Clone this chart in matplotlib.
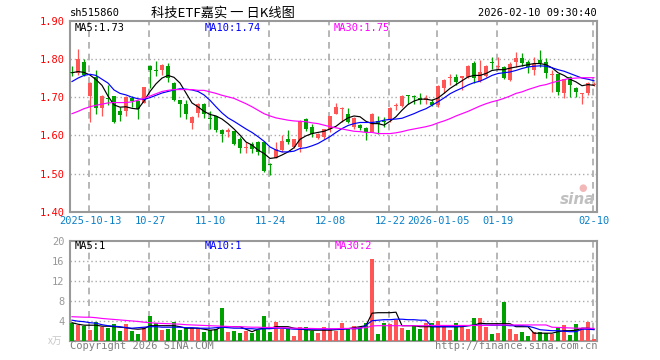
import matplotlib
matplotlib.use("Agg")
import matplotlib.pyplot as plt
import numpy as np

# daily candles, 2025-10 .. 2026-02-10
opens = [1.767, 1.762, 1.792, 1.703, 1.753, 1.671, 1.699, 1.703, 1.664, 1.663,
         1.699, 1.690, 1.686, 1.782, 1.771, 1.770, 1.782, 1.737, 1.692, 1.683,
         1.633, 1.660, 1.683, 1.644, 1.651, 1.614, 1.608, 1.611, 1.590, 1.566,
         1.577, 1.583, 1.583, 1.526, 1.542, 1.562, 1.590, 1.571, 1.571, 1.643,
         1.623, 1.594, 1.597, 1.617, 1.657, 1.668, 1.657, 1.623, 1.627, 1.620,
         1.610, 1.637, 1.637, 1.640, 1.678, 1.677, 1.704, 1.702, 1.699, 1.694,
         1.688, 1.679, 1.724, 1.749, 1.753, 1.749, 1.753, 1.790, 1.742, 1.756,
         1.791, 1.780, 1.779, 1.744, 1.792, 1.803, 1.792, 1.770, 1.797, 1.792,
         1.759, 1.760, 1.710, 1.753, 1.725, 1.709, 1.710, 1.732]
highs = [1.782, 1.827, 1.800, 1.740, 1.770, 1.705, 1.731, 1.704, 1.675, 1.702,
         1.703, 1.692, 1.728, 1.783, 1.795, 1.786, 1.790, 1.739, 1.693, 1.692,
         1.650, 1.684, 1.685, 1.663, 1.652, 1.616, 1.620, 1.613, 1.595, 1.583,
         1.583, 1.585, 1.585, 1.527, 1.583, 1.601, 1.614, 1.591, 1.640, 1.645,
         1.629, 1.606, 1.618, 1.652, 1.684, 1.674, 1.672, 1.647, 1.631, 1.623,
         1.658, 1.651, 1.649, 1.674, 1.685, 1.707, 1.706, 1.705, 1.710, 1.705,
         1.695, 1.731, 1.747, 1.760, 1.760, 1.756, 1.783, 1.794, 1.798, 1.784,
         1.805, 1.805, 1.782, 1.792, 1.818, 1.816, 1.797, 1.805, 1.823, 1.803,
         1.770, 1.761, 1.748, 1.755, 1.726, 1.712, 1.740, 1.740]
lows = [1.755, 1.758, 1.755, 1.636, 1.657, 1.651, 1.680, 1.633, 1.638, 1.652,
        1.675, 1.644, 1.684, 1.723, 1.756, 1.758, 1.740, 1.690, 1.649, 1.643,
        1.618, 1.649, 1.646, 1.618, 1.608, 1.582, 1.596, 1.575, 1.553, 1.553,
        1.553, 1.550, 1.504, 1.497, 1.540, 1.557, 1.579, 1.568, 1.556, 1.611,
        1.597, 1.590, 1.592, 1.610, 1.655, 1.636, 1.633, 1.617, 1.614, 1.588,
        1.608, 1.603, 1.623, 1.636, 1.666, 1.675, 1.681, 1.683, 1.683, 1.683,
        1.677, 1.675, 1.712, 1.733, 1.731, 1.718, 1.750, 1.736, 1.740, 1.753,
        1.775, 1.775, 1.748, 1.742, 1.779, 1.782, 1.762, 1.757, 1.779, 1.750,
        1.714, 1.707, 1.698, 1.700, 1.700, 1.683, 1.707, 1.730]
closes = [1.762, 1.799, 1.757, 1.736, 1.673, 1.703, 1.696, 1.636, 1.653, 1.701,
          1.690, 1.670, 1.727, 1.772, 1.769, 1.785, 1.749, 1.694, 1.683, 1.657,
          1.649, 1.683, 1.657, 1.642, 1.614, 1.605, 1.614, 1.577, 1.566, 1.569,
          1.564, 1.556, 1.507, 1.523, 1.564, 1.586, 1.582, 1.590, 1.638, 1.618,
          1.603, 1.605, 1.617, 1.651, 1.675, 1.673, 1.636, 1.646, 1.620, 1.608,
          1.657, 1.629, 1.635, 1.673, 1.680, 1.703, 1.702, 1.700, 1.693, 1.696,
          1.679, 1.730, 1.746, 1.751, 1.740, 1.755, 1.782, 1.749, 1.766, 1.781,
          1.789, 1.782, 1.750, 1.786, 1.803, 1.790, 1.779, 1.788, 1.790, 1.762,
          1.761, 1.714, 1.747, 1.731, 1.714, 1.711, 1.736, 1.734]

ma5 = [1.764, 1.767, 1.765, 1.758, 1.746, 1.731, 1.703, 1.680, 1.674, 1.675,
       1.671, 1.669, 1.690, 1.715, 1.735, 1.750, 1.757, 1.752, 1.737, 1.711,
       1.685, 1.675, 1.663, 1.655, 1.651, 1.643, 1.631, 1.617, 1.601, 1.583,
       1.575, 1.562, 1.553, 1.540, 1.542, 1.549, 1.557, 1.568, 1.590, 1.599,
       1.605, 1.608, 1.611, 1.617, 1.624, 1.636, 1.646, 1.651, 1.649, 1.637,
       1.631, 1.631, 1.627, 1.637, 1.649, 1.666, 1.681, 1.690, 1.695, 1.695,
       1.692, 1.698, 1.710, 1.723, 1.733, 1.743, 1.753, 1.757, 1.757, 1.762,
       1.770, 1.772, 1.772, 1.776, 1.779, 1.782, 1.785, 1.788, 1.788, 1.785,
       1.777, 1.764, 1.757, 1.747, 1.740, 1.730, 1.733, 1.731]
ma10 = [1.741, 1.750, 1.757, 1.760, 1.757, 1.747, 1.737, 1.719, 1.710, 1.706,
        1.700, 1.696, 1.694, 1.699, 1.705, 1.711, 1.715, 1.719, 1.722, 1.721,
        1.719, 1.715, 1.706, 1.692, 1.675, 1.659, 1.646, 1.637, 1.627, 1.617,
        1.608, 1.597, 1.585, 1.570, 1.562, 1.557, 1.557, 1.559, 1.566, 1.568,
        1.573, 1.579, 1.588, 1.597, 1.608, 1.618, 1.626, 1.631, 1.634, 1.634,
        1.634, 1.636, 1.640, 1.642, 1.643, 1.645, 1.651, 1.657, 1.664, 1.670,
        1.679, 1.688, 1.698, 1.709, 1.717, 1.724, 1.732, 1.738, 1.742, 1.749,
        1.757, 1.762, 1.764, 1.766, 1.770, 1.775, 1.779, 1.781, 1.782, 1.781,
        1.777, 1.772, 1.768, 1.762, 1.756, 1.750, 1.747, 1.743]
ma30 = [1.657, 1.663, 1.670, 1.675, 1.679, 1.682, 1.685, 1.686, 1.686, 1.686,
        1.688, 1.692, 1.697, 1.703, 1.709, 1.715, 1.718, 1.720, 1.720, 1.720,
        1.720, 1.718, 1.718, 1.714, 1.710, 1.705, 1.701, 1.697, 1.690, 1.683,
        1.675, 1.666, 1.657, 1.651, 1.646, 1.643, 1.640, 1.638, 1.637, 1.636,
        1.633, 1.631, 1.627, 1.623, 1.620, 1.617, 1.614, 1.611, 1.610, 1.608,
        1.608, 1.605, 1.605, 1.605, 1.607, 1.610, 1.614, 1.617, 1.620, 1.623,
        1.627, 1.633, 1.638, 1.644, 1.651, 1.657, 1.663, 1.670, 1.677, 1.683,
        1.688, 1.692, 1.697, 1.703, 1.710, 1.714, 1.720, 1.725, 1.730, 1.733,
        1.738, 1.742, 1.746, 1.749, 1.750, 1.751, 1.751, 1.751]

# volume (x 10k)
volume = [3.47, 3.13, 3.0, 2.13, 3.67, 2.8, 2.6, 3.33, 2.0, 3.33,
          2.0, 1.33, 2.67, 4.93, 3.47, 2.13, 2.33, 3.73, 2.13, 2.47,
          2.47, 2.47, 1.8, 2.13, 2.33, 6.6, 1.8, 1.93, 1.53, 1.93,
          1.6, 2.13, 4.93, 1.73, 3.73, 2.27, 2.47, 0.93, 2.67, 2.67,
          2.0, 1.47, 2.67, 2.3, 2.0, 3.47, 2.27, 2.93, 2.67, 3.47,
          16.33, 1.33, 3.47, 3.33, 4.13, 2.6, 2.13, 2.93, 2.4, 3.47,
          3.47, 4.0, 3.13, 2.13, 3.47, 2.93, 2.4, 4.53, 4.53, 2.67,
          1.33, 1.53, 7.73, 2.33, 1.33, 1.73, 0.93, 1.73, 1.73, 1.47,
          1.33, 2.67, 3.13, 1.13, 3.33, 2.47, 3.73, 0.33]
vma5 = [3.6, 3.3, 3.1, 3.1, 3.1, 2.9, 2.9, 2.8, 2.7, 2.6,
        2.4, 2.3, 2.4, 3.0, 3.0, 3.0, 3.0, 3.0, 2.8, 2.5,
        2.5, 2.5, 2.3, 2.1, 2.2, 2.8, 2.8, 2.8, 2.8, 2.3,
        1.8, 2.3, 2.5, 2.5, 2.8, 2.8, 2.8, 2.5, 2.3, 2.2,
        2.1, 2.1, 2.1, 2.1, 2.2, 2.3, 2.4, 2.6, 2.8, 3.0,
        5.5, 5.6, 5.6, 5.6, 5.7, 3.0, 3.0, 3.0, 2.8, 2.8,
        2.8, 2.8, 2.8, 2.8, 2.8, 2.8, 3.0, 3.1, 3.5, 3.4,
        3.4, 3.4, 3.4, 3.4, 2.8, 2.8, 2.8, 1.5, 1.5, 1.5,
        1.5, 1.8, 2.0, 2.0, 2.1, 2.5, 2.5, 2.3]
vma10 = [4.1, 3.9, 3.8, 3.6, 3.5, 3.2, 3.0, 2.9, 2.8, 2.6,
         2.5, 2.6, 2.7, 2.8, 2.8, 2.7, 2.7, 2.7, 2.7, 2.6,
         2.6, 2.5, 2.5, 2.5, 2.6, 2.7, 2.6, 2.5, 2.5, 2.4,
         2.4, 2.3, 2.4, 2.4, 2.5, 2.5, 2.4, 2.3, 2.3, 2.3,
         2.3, 2.3, 2.3, 2.3, 2.3, 2.3, 2.4, 2.4, 2.4, 3.1,
         4.0, 4.1, 4.2, 4.2, 4.3, 4.3, 4.2, 4.2, 4.1, 4.1,
         2.8, 2.8, 2.8, 2.8, 2.8, 2.9, 3.0, 3.1, 3.1, 3.1,
         3.1, 3.1, 3.1, 3.0, 3.0, 3.0, 2.9, 2.6, 2.2, 2.1,
         2.0, 2.0, 1.9, 1.8, 1.8, 2.3, 2.3, 2.2]
vma30 = [4.8, 4.75, 4.7, 4.7, 4.6, 4.45, 4.35, 4.25, 4.15, 4.05,
         3.95, 3.85, 3.7, 3.6, 3.5, 3.45, 3.4, 3.35, 3.3, 3.2,
         3.15, 3.1, 3.05, 3.0, 2.95, 2.9, 2.85, 2.8, 2.8, 2.75,
         2.7, 2.7, 2.65, 2.65, 2.6, 2.6, 2.55, 2.5, 2.5, 2.45,
         2.45, 2.4, 2.4, 2.4, 2.4, 2.45, 2.45, 2.5, 2.55, 2.6,
         2.95, 3.0, 3.0, 3.0, 3.0, 3.0, 3.0, 3.0, 3.0, 3.0,
         3.05, 3.05, 3.05, 3.05, 3.05, 3.05, 3.05, 3.05, 3.05, 3.05,
         3.15, 3.15, 3.15, 3.15, 3.15, 3.15, 3.15, 3.15, 3.15, 3.15,
         2.7, 2.65, 2.6, 2.55, 2.5, 2.5, 2.5, 2.45]

date_idx = [3, 13, 23, 33, 43, 53, 61, 71, 87]
date_labels = ["2025-10-13", "10-27", "11-10", "11-24", "12-08",
               "12-22", "2026-01-05", "01-19", "02-10"]
price_ticks = [1.40, 1.50, 1.60, 1.70, 1.80, 1.90]
vol_ticks = [4, 8, 12, 16, 20]

RED = "#ff5555"
GREEN = "#00a000"
GRID = "#aaaaaa"
FRAME = "#999999"
MONO = "DejaVu Sans Mono"
CJK = ["Noto Sans CJK SC", "DejaVu Sans"]

W, H = 660, 360
def fx(px):
    return px / W
def fy(py):
    return 1 - py / H

fig = plt.figure(figsize=(6.6, 3.6), dpi=100)
ax = fig.add_axes([fx(70), fy(212), (597 - 70) / W, (212 - 20.7) / H])
axv = fig.add_axes([fx(70), fy(340.7), (597 - 70) / W, 100 / H])

o = np.array(opens); c = np.array(closes)
hi = np.array(highs); lo = np.array(lows)
x = np.arange(len(c))
cols = np.where(c >= o, RED, GREEN)

# candles
ax.vlines(x, lo, hi, colors=cols, lw=0.9, zorder=3)
ax.bar(x, np.maximum(np.abs(c - o), 0.0028), bottom=np.minimum(o, c),
       width=0.8, color=cols, lw=0, zorder=4)
ax.plot(x, ma5, color="black", lw=0.85, zorder=5)
ax.plot(x, ma10, color="#0000ff", lw=0.85, zorder=5)
ax.plot(x, ma30, color="#ff00ff", lw=0.85, zorder=5)

# volume
axv.bar(x, volume, width=0.8, color=cols, lw=0, zorder=3)
axv.plot(x, vma5, color="black", lw=0.85, zorder=5)
axv.plot(x, vma10, color="#0000ff", lw=0.85, zorder=5)
axv.plot(x, vma30, color="#ff00ff", lw=0.85, zorder=5)

for a in (ax, axv):
    a.set_xlim(-1 / 3, 87.5)
    for s in a.spines.values():
        s.set_color(FRAME)
        s.set_linewidth(1.5)
    for d in date_idx:
        a.axvline(d - 0.25, color=GRID, ls=(0, (4, 3)), lw=1.2, zorder=1)
    a.tick_params(length=0)

ax.set_ylim(1.40, 1.90)
for p in price_ticks[1:-1]:
    ax.axhline(p, color=GRID, ls=(0, (1, 2)), lw=1, zorder=1)
ax.set_yticks(price_ticks)
ax.set_yticklabels([f"{p:.2f}" for p in price_ticks], color="red",
                   family=MONO, fontsize=7.5)
ax.set_xticks(date_idx)
ax.set_xticklabels(date_labels, color="#0a80c8", family=MONO, fontsize=7.5)
ax.tick_params(axis="y", pad=4)
ax.tick_params(axis="x", pad=3)

axv.set_ylim(0, 20)
for v in vol_ticks[:-1]:
    axv.axhline(v, color=GRID, ls=(0, (1, 2)), lw=1, zorder=1)
axv.set_yticks(vol_ticks)
axv.set_yticklabels([str(v) for v in vol_ticks], color=FRAME,
                    family=MONO, fontsize=7.5)
axv.tick_params(axis="y", pad=4)
axv.set_xticks([])

# header
fig.text(fx(70), fy(13), "sh515860", family=MONO, fontsize=7.5, va="center")
fig.text(fx(223), fy(13), "科技ETF嘉实 一 日K线图", family=CJK, fontsize=9.5,
         ha="center", va="center")
fig.text(fx(597), fy(13), "2026-02-10 09:30:40", family=MONO, fontsize=7.5,
         ha="right", va="center")

# MA legends
fig.text(fx(75), fy(28), "MA5:1.73", family=MONO, fontsize=7.5, va="center")
fig.text(fx(205), fy(28), "MA10:1.74", family=MONO, fontsize=7.5,
         va="center", color="#0000ff")
fig.text(fx(334), fy(28), "MA30:1.75", family=MONO, fontsize=7.5,
         va="center", color="#ff00ff")
fig.text(fx(75), fy(246), "MA5:1", family=MONO, fontsize=7.5, va="center")
fig.text(fx(205), fy(246), "MA10:1", family=MONO, fontsize=7.5,
         va="center", color="#0000ff")
fig.text(fx(335), fy(246), "MA30:2", family=MONO, fontsize=7.5,
         va="center", color="#ff00ff")

# footer
fig.text(fx(48), fy(341), "x万", family=CJK, fontsize=7, va="center",
         color="#c8c8c8")
fig.text(fx(70), fy(346), "Copyright 2026 SINA.COM", family=MONO,
         fontsize=7.5, va="center", color="#808080")
fig.text(fx(597), fy(346), "http://finance.sina.com.cn", family=MONO,
         fontsize=7.5, va="center", ha="right", color="#808080")

# watermark
fig.text(fx(583), fy(188), "●", fontsize=7, color="#f2b8b8",
         ha="center", va="center")
fig.text(fx(578), fy(200), "sina", fontsize=11, color="#c0c0c0",
         style="italic", weight="bold", ha="center", va="center")

fig.savefig("out.png", dpi=100)
